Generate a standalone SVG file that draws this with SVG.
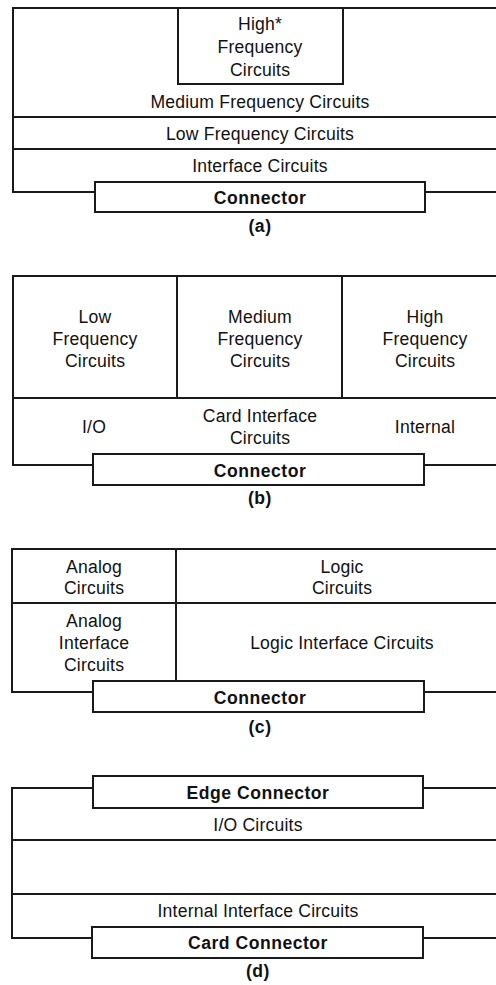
<svg xmlns="http://www.w3.org/2000/svg" width="496" height="985" viewBox="0 0 496 985">
<style>
.ln{fill:none;stroke:#1a1a1a;stroke-width:2}
.bx{fill:#fff;stroke:#1a1a1a;stroke-width:2}
text{font-family:"Liberation Sans",Arial,sans-serif;font-size:17.6px;fill:#111;text-anchor:middle;letter-spacing:0.2px}
.b{font-weight:bold;letter-spacing:0.5px}
</style>
<rect width="496" height="985" fill="#fff"/>
<!-- (a) -->
<g id="panel-a">
<g id="connectors-a">
<path class="ln" d="M496 8 H13 V192 H95 M425 192 H496"/>
<path class="ln" d="M13 117 H496 M13 149 H496"/>
</g>
<g id="a-high"><rect class="bx" x="178" y="8" width="165" height="76"/><text x="260" y="30">High*</text><text x="260" y="53">Frequency</text><text x="260" y="76">Circuits</text></g>
<g id="a-medium"><text x="260" y="108">Medium Frequency Circuits</text></g>
<g id="a-low"><text x="260" y="140">Low Frequency Circuits</text></g>
<g id="a-interface"><text x="260" y="172">Interface Circuits</text></g>
<g id="a-connector"><rect class="bx" x="95" y="182" width="330" height="30"/><text class="b" x="260" y="204">Connector</text></g>
<text class="b" x="260" y="232">(a)</text>
</g>
<!-- (b) -->
<g id="panel-b">
<g id="connectors-b">
<path class="ln" d="M496 276 H13 V465 H93 M425 465 H496"/>
<path class="ln" d="M13 398 H496 M177 276 V398 M342 276 V398"/>
</g>
<g id="b-low"><text x="95" y="323">Low</text><text x="95" y="345">Frequency</text><text x="95" y="367">Circuits</text></g>
<g id="b-medium"><text x="260" y="323">Medium</text><text x="260" y="345">Frequency</text><text x="260" y="367">Circuits</text></g>
<g id="b-high"><text x="425" y="323">High</text><text x="425" y="345">Frequency</text><text x="425" y="367">Circuits</text></g>
<g id="b-io"><text x="94" y="433">I/O</text></g>
<g id="b-card"><text x="260" y="422">Card Interface</text><text x="260" y="444">Circuits</text></g>
<g id="b-internal"><text x="425" y="433">Internal</text></g>
<g id="b-connector"><rect class="bx" x="93" y="454" width="331" height="31"/><text class="b" x="260" y="477">Connector</text></g>
<text class="b" x="260" y="504">(b)</text>
</g>
<!-- (c) -->
<g id="panel-c">
<g id="connectors-c">
<path class="ln" d="M496 549 H12 V692 H93 M424 692 H496"/>
<path class="ln" d="M12 603 H496 M176 549 V681"/>
</g>
<g id="c-analog"><text x="94" y="573">Analog</text><text x="94" y="594">Circuits</text></g>
<g id="c-logic"><text x="342" y="573">Logic</text><text x="342" y="594">Circuits</text></g>
<g id="c-analog-if"><text x="94" y="627">Analog</text><text x="94" y="649">Interface</text><text x="94" y="671">Circuits</text></g>
<g id="c-logic-if"><text x="342" y="649">Logic Interface Circuits</text></g>
<g id="c-connector"><rect class="bx" x="93" y="681" width="331" height="31"/><text class="b" x="260" y="704">Connector</text></g>
<text class="b" x="260" y="733">(c)</text>
</g>
<!-- (d) -->
<g id="panel-d">
<g id="connectors-d">
<path class="ln" d="M93 788 H12 V938 H93 M423 788 H496 M423 938 H496"/>
<path class="ln" d="M12 840 H496 M12 894 H496"/>
</g>
<g id="d-edge"><rect class="bx" x="93" y="776" width="330" height="32"/><text class="b" x="258" y="799">Edge Connector</text></g>
<g id="d-io"><text x="258" y="831">I/O Circuits</text></g>
<g id="d-internal"><text x="258" y="917">Internal Interface Circuits</text></g>
<g id="d-card"><rect class="bx" x="92" y="927" width="331" height="31"/><text class="b" x="258" y="949">Card Connector</text></g>
<text class="b" x="258" y="977">(d)</text>
</g>
</svg>
